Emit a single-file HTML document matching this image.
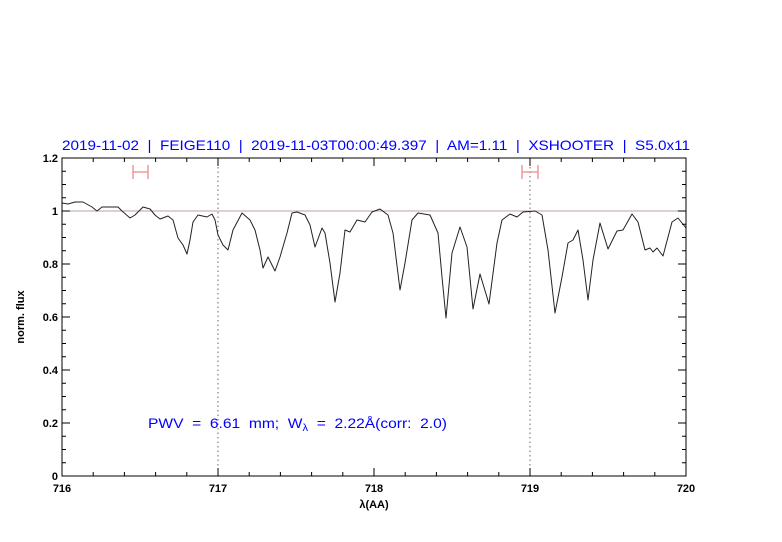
<!DOCTYPE html>
<html><head><meta charset="utf-8"><style>body{margin:0;background:#fff}svg{display:block}</style></head><body>
<svg width="782" height="542" xmlns="http://www.w3.org/2000/svg" font-family="Liberation Sans, sans-serif">
<rect width="782" height="542" fill="#fff"/>
<text x="62" y="150" font-size="14" fill="#0000ff" textLength="628" lengthAdjust="spacingAndGlyphs" xml:space="preserve">2019-11-02  |  FEIGE110  |  2019-11-03T00:00:49.397  |  AM=1.11  |  XSHOOTER  |  S5.0x11</text>
<line x1="62" y1="211" x2="686" y2="211" stroke="#b8a0a0" stroke-width="1"/>
<line x1="218" y1="158" x2="218" y2="476" stroke="#444" stroke-width="0.8" stroke-dasharray="1.5,3"/>
<line x1="530" y1="158" x2="530" y2="476" stroke="#444" stroke-width="0.8" stroke-dasharray="1.5,3"/>
<g stroke="#f08080" stroke-width="1.2">
<line x1="133" y1="172" x2="148" y2="172"/><line x1="133" y1="165" x2="133" y2="179"/><line x1="148" y1="165" x2="148" y2="179"/>
<line x1="522" y1="172" x2="538" y2="172"/><line x1="522" y1="165" x2="522" y2="179"/><line x1="538" y1="165" x2="538" y2="179"/>
</g>
<polyline fill="none" stroke="#222" stroke-width="1" stroke-linejoin="round" points="62,203 68,204 75,202 83,202 92,207 97,211 102,207 107,207 118,207 122,211 130,218 135,215 143,207 150,209 155,215 160,219 168,216 173,220 178,238 183,245 187,254 190,240 193,222 198,215 207,217 212,214 215,220 218,235 223,245 228,250 233,230 242,213 250,220 255,230 260,250 263,268 268,257 275,271 280,257 287,233 292,213 297,212 305,215 310,225 315,247 322,228 325,233 330,263 335,302 340,273 345,230 350,232 357,220 365,222 372,212 380,209 388,215 393,233 400,290 405,263 412,220 418,213 430,215 438,233 442,277 446,318 452,253 460,227 467,247 473,309 480,274 489,304 497,243 502,220 510,214 517,217 523,212 535,211 542,215 548,250 555,313 562,277 568,243 573,240 578,230 583,260 588,300 593,260 600,223 608,249 617,231 623,230 632,214 638,222 645,250 650,248 653,252 657,248 663,256 672,222 678,218 686,228"/>
<rect x="62" y="158" width="624" height="318" fill="none" stroke="#000" stroke-width="1"/>
<g stroke="#000" stroke-width="1">
<path d="M218,476v-8M374,476v-8M530,476v-8M218,158v8M374,158v8M530,158v8"/>
<path d="M93.2,476v-4M124.4,476v-4M155.6,476v-4M186.8,476v-4M249.2,476v-4M280.4,476v-4M311.6,476v-4M342.8,476v-4M405.2,476v-4M436.4,476v-4M467.6,476v-4M498.8,476v-4M561.2,476v-4M592.4,476v-4M623.6,476v-4M654.8,476v-4"/>
<path d="M93.2,158v4M124.4,158v4M155.6,158v4M186.8,158v4M249.2,158v4M280.4,158v4M311.6,158v4M342.8,158v4M405.2,158v4M436.4,158v4M467.6,158v4M498.8,158v4M561.2,158v4M592.4,158v4M623.6,158v4M654.8,158v4"/>
<path d="M62,423h8M62,370h8M62,317h8M62,264h8M62,211h8M686,423h-8M686,370h-8M686,317h-8M686,264h-8M686,211h-8"/>
<path d="M62,462.75h4M62,449.5h4M62,436.25h4M62,409.75h4M62,396.5h4M62,383.25h4M62,356.75h4M62,343.5h4M62,330.25h4M62,303.75h4M62,290.5h4M62,277.25h4M62,250.75h4M62,237.5h4M62,224.25h4M62,197.75h4M62,184.5h4M62,171.25h4"/>
<path d="M686,462.75h-4M686,449.5h-4M686,436.25h-4M686,409.75h-4M686,396.5h-4M686,383.25h-4M686,356.75h-4M686,343.5h-4M686,330.25h-4M686,303.75h-4M686,290.5h-4M686,277.25h-4M686,250.75h-4M686,237.5h-4M686,224.25h-4M686,197.75h-4M686,184.5h-4M686,171.25h-4"/>
</g>
<g font-size="11" font-weight="bold" fill="#000" text-anchor="middle">
<text x="62" y="492">716</text><text x="218" y="492">717</text><text x="374" y="492">718</text><text x="530" y="492">719</text><text x="686" y="492">720</text>
<text x="374" y="508">λ(AA)</text>
</g>
<g font-size="11" font-weight="bold" fill="#000" text-anchor="end">
<text x="58" y="480">0</text><text x="58" y="427">0.2</text><text x="58" y="374">0.4</text><text x="58" y="321">0.6</text><text x="58" y="268">0.8</text><text x="58" y="215">1</text><text x="58" y="162">1.2</text>
</g>
<text transform="translate(24,317) rotate(-90)" font-size="11" font-weight="bold" text-anchor="middle">norm. flux</text>
<text x="148" y="428" font-size="14" fill="#0000ff" textLength="299" lengthAdjust="spacingAndGlyphs" xml:space="preserve">PWV  =  6.61  mm;  W<tspan font-size="10" dy="3">λ</tspan><tspan dy="-3">  =  2.22Å(corr:  2.0)</tspan></text>
</svg>
</body></html>
